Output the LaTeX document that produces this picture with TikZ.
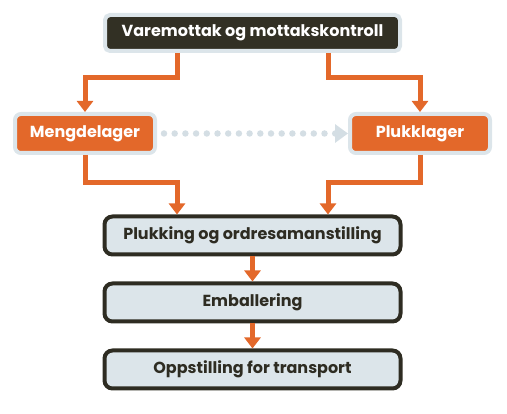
\documentclass[tikz,border=0pt]{standalone}
\usepackage{fontspec}
\setmainfont{Poppins}
\usepackage{tikz}
\usetikzlibrary{arrows.meta, positioning, calc}
\definecolor{flowcolor}{RGB}{227, 104, 42}
\definecolor{darkcolor}{RGB}{50, 48, 36}
\definecolor{palecolor}{RGB}{220, 229, 234}
\definecolor{dotcolor}{RGB}{212, 222, 228}
\definecolor{edgecolor}{RGB}{46, 44, 34}
\tikzstyle{headbox} = [draw=palecolor, rectangle, rounded corners=5pt, line width=4pt, minimum width=295pt, minimum height=36pt, text centered, fill=darkcolor, text=white, font=\fontsize{16}{18}\selectfont\bfseries]
\tikzstyle{storebox} = [draw=palecolor, rectangle, rounded corners=6pt, line width=4pt, minimum width=140pt, minimum height=39pt, text centered, fill=flowcolor, text=white, font=\fontsize{16}{18}\selectfont\bfseries]
\tikzstyle{stagebox} = [draw=edgecolor, rectangle, rounded corners=8pt, line width=4pt, minimum width=296pt, minimum height=38pt, text centered, fill=palecolor, text=edgecolor, font=\fontsize{16}{18}\selectfont\bfseries]
\tikzstyle{arrow} = [line width=5pt, color=flowcolor, -{Triangle[width=16pt, length=11pt]}]
\tikzstyle{dotarrow} = [line width=6.5pt, color=dotcolor, line cap=round, dash pattern=on 0pt off 10.7pt, -{Triangle[width=18pt, length=13pt]}]

\begin{document}
\begin{tikzpicture}[x=1pt, y=1pt]
\useasboundingbox (0,0) rectangle (507,-414);

% Nodes
\node (top) [headbox] at (252.5,-33) {Varemottak og mottakskontroll};

\node (mengde) [storebox] at (85,-133.5) {Mengdelager};
\node (plukk) [storebox] at (420,-133.5) {Plukklager};

\node (samle) [stagebox] at (252.5,-235.5) {Plukking og ordresamanstilling};

\node (emb) [stagebox, below=25pt of samle] {Emballering};

\node (transp) [stagebox, below=25pt of emb] {Oppstilling for transport};

% Arrows
\draw [arrow] ([xshift=-75.5pt]top.south) -- ++(0,-25) -| (mengde.north);
\draw [arrow] ([xshift=75.5pt]top.south) -- ++(0,-25) -| (plukk.north);

\draw [dotarrow, shorten <=7pt] (mengde.east) -- (plukk.west);

\draw [arrow] (mengde.south) -- ++(0,-28) -| ([xshift=-75.5pt]samle.north);
\draw [arrow] (plukk.south) -- ++(0,-28) -| ([xshift=75.5pt]samle.north);

\draw [arrow] (samle) -- (emb);
\draw [arrow] (emb) -- (transp);

\end{tikzpicture}
\end{document}
